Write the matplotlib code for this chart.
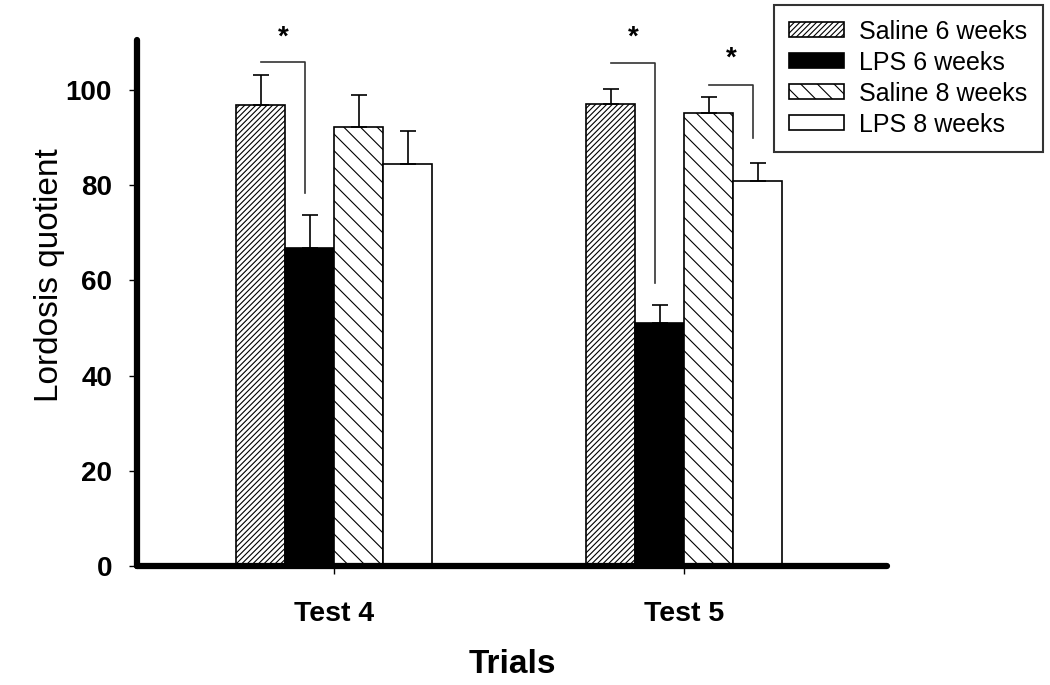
import numpy as np
import matplotlib
matplotlib.use('Agg')
import matplotlib.pyplot as plt

# --- data ---
groups = ['Test 4', 'Test 5']
series_names = ['Saline 6 weeks', 'LPS 6 weeks', 'Saline 8 weeks', 'LPS 8 weeks']
saline_6w = [96.8, 97.1]
saline_6w_err = [6.3, 3.1]
lps_6w = [66.8, 51.1]
lps_6w_err = [6.9, 3.7]
saline_8w = [92.2, 95.2]
saline_8w_err = [6.7, 3.3]
lps_8w = [84.5, 80.9]
lps_8w_err = [6.9, 3.8]

# significance brackets: (group index, left bar, right bar, top y, bottom y of right leg)
brackets = [
    (0, 0, 1, 105.9, 78.4),
    (1, 0, 1, 105.7, 59.5),
    (1, 2, 3, 101.1, 89.9),
]
star_heights = [110.9, 110.9, 106.5]

plt.rcParams['font.family'] = ['Liberation Sans', 'DejaVu Sans']
plt.rcParams['hatch.linewidth'] = 0.8

values = [saline_6w, lps_6w, saline_8w, lps_8w]
errors = [saline_6w_err, lps_6w_err, saline_8w_err, lps_8w_err]
styles = [
    dict(color='white', hatch='//////'),
    dict(color='black', hatch=None),
    dict(color='white', hatch='\\\\'),
    dict(color='white', hatch=None),
]

fig = plt.figure(figsize=(10.5, 6.85), dpi=100)
ax = fig.add_axes([137 / 1050, 119 / 685, 750 / 1050, 526 / 685])

x = np.arange(len(groups))
width = 0.14
offsets = (np.arange(4) - 1.5) * width

for i in range(4):
    ax.bar(x + offsets[i], values[i], width, color=styles[i]['color'],
           hatch=styles[i]['hatch'], edgecolor='black', linewidth=1.2,
           label=series_names[i], zorder=2)
    ax.errorbar(x + offsets[i], values[i], yerr=[np.zeros(2), errors[i]],
                fmt='none', ecolor='black', elinewidth=1.2, capsize=5.5,
                capthick=1.2, zorder=3)

for (g, a, b, ytop, ybot), ystar in zip(brackets, star_heights):
    xl = x[g] + offsets[a]
    xr = x[g] + offsets[b] - 0.012
    ax.plot([xl, xr, xr], [ytop, ytop, ybot], color='#333333', lw=1.2,
            clip_on=False, zorder=4)
    ax.text((xl + xr) / 2, ystar, '*', ha='center', va='center',
            fontsize=20, fontweight='bold', clip_on=False)

ax.set_xlim(-0.563, 1.58)
ax.set_ylim(0, 110.5)
ax.set_yticks([0, 20, 40, 60, 80, 100])
ax.set_xticks(x)
ax.set_xticklabels(groups, fontsize=20.5, fontweight='bold')
for lab in ax.get_yticklabels():
    lab.set_fontsize(20)
    lab.set_fontweight('bold')
ax.tick_params(axis='y', direction='out', length=6, width=1, pad=12)
ax.tick_params(axis='x', direction='out', length=6, width=1, pad=19)

for side in ['top', 'right']:
    ax.spines[side].set_visible(False)
for side in ['left', 'bottom']:
    ax.spines[side].set_linewidth(4.5)
    ax.spines[side].set_capstyle('round')

ax.set_ylabel('Lordosis quotient', fontsize=24)
ax.yaxis.set_label_coords(-0.096, 0.553)
ax.set_xlabel('Trials', fontsize=24, fontweight='bold', labelpad=16)

leg = fig.legend(loc='upper right', bbox_to_anchor=(0.993, 0.993),
                 borderaxespad=0, fontsize=18, frameon=True, fancybox=False,
                 edgecolor='black', handlelength=2.2, handleheight=0.55,
                 handletextpad=0.6, labelspacing=0.28, borderpad=0.6)
leg.get_frame().set_linewidth(1.5)

plt.savefig('out.png', dpi=100)
